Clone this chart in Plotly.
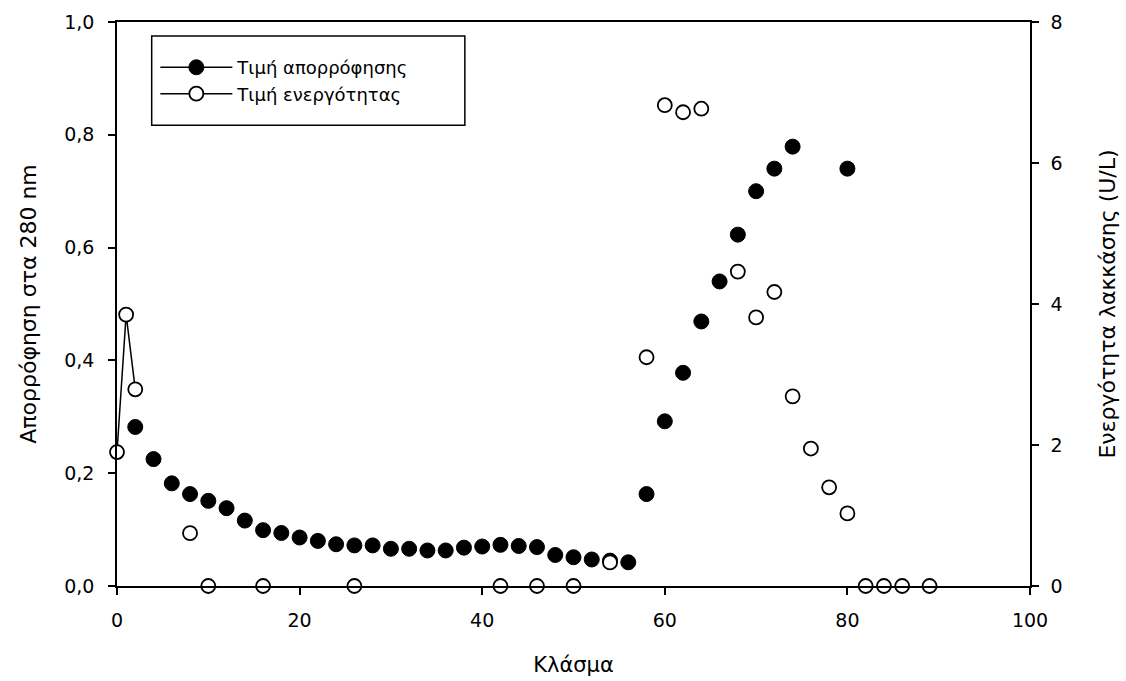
import plotly.graph_objects as go

# Absorbance at 280 nm per fraction (left axis)
abs_fraction = [2, 4, 6, 8, 10, 12, 14, 16, 18, 20, 22, 24, 26, 28, 30, 32, 34, 36,
                38, 40, 42, 44, 46, 48, 50, 52, 54, 56, 58, 60, 62, 64, 66, 68, 70,
                72, 74, 80]
abs_value = [0.282, 0.225, 0.182, 0.163, 0.151, 0.138, 0.116, 0.099, 0.094, 0.086,
             0.080, 0.074, 0.072, 0.072, 0.066, 0.066, 0.063, 0.063, 0.068, 0.070,
             0.073, 0.071, 0.069, 0.055, 0.051, 0.047, 0.045, 0.042, 0.163, 0.292,
             0.378, 0.469, 0.540, 0.623, 0.700, 0.740, 0.779, 0.740]

# Laccase activity (U/L) per fraction (right axis)
act_fraction = [0, 1, 2, 8, 10, 16, 26, 42, 46, 50, 54, 58, 60, 62, 64, 68, 70, 72,
                74, 76, 78, 80, 82, 84, 86, 89]
act_value = [1.90, 3.85, 2.79, 0.75, 0.0, 0.0, 0.0, 0.0, 0.0, 0.0, 0.335, 3.245,
             6.82, 6.72, 6.77, 4.46, 3.81, 4.17, 2.69, 1.95, 1.40, 1.03, 0.0, 0.0,
             0.0, 0.0]

# Axis ticks (comma decimal separator)
left_tickvals = [0.0, 0.2, 0.4, 0.6, 0.8, 1.0]
left_ticktext = ["0,0", "0,2", "0,4", "0,6", "0,8", "1,0"]
right_tickvals = [0, 2, 4, 6, 8]
x_tickvals = [0, 20, 40, 60, 80, 100]


def with_gaps(xs, ys):
    """Insert None between fractions that are not adjacent, so the line
    only joins consecutive fractions."""
    gx, gy = [], []
    for i, (x, y) in enumerate(zip(xs, ys)):
        if i > 0 and x - xs[i - 1] > 1:
            gx.append(None)
            gy.append(None)
        gx.append(x)
        gy.append(y)
    return gx, gy


ax_x, ax_y = with_gaps(abs_fraction, abs_value)
ac_x, ac_y = with_gaps(act_fraction, act_value)

tick_font = dict(family="DejaVu Sans", size=19, color="black")

fig = go.Figure()
fig.add_trace(go.Scatter(
    x=ax_x, y=ax_y, mode="lines+markers", name="Τιμή απορρόφησης",
    line=dict(color="black", width=1.5),
    marker=dict(symbol="circle", size=15, color="black",
                line=dict(color="black", width=1)),
    connectgaps=False, cliponaxis=False, yaxis="y",
))
fig.add_trace(go.Scatter(
    x=ac_x, y=ac_y, mode="lines+markers", name="Τιμή ενεργότητας",
    line=dict(color="black", width=1.5),
    marker=dict(symbol="circle", size=14, color="white",
                line=dict(color="black", width=1.8)),
    connectgaps=False, cliponaxis=False, yaxis="y2",
))

# Frame around the legend, with extra padding above and below the entries
fig.add_shape(
    type="rect", xref="paper", yref="paper",
    x0=0.038, x1=0.381, y0=0.817, y1=0.975,
    line=dict(color="black", width=1.5), fillcolor="white", layer="below",
)

fig.update_layout(
    width=1126, height=681,
    margin=dict(l=117, r=96, t=22, b=95),
    paper_bgcolor="white", plot_bgcolor="white",
    showlegend=True,
    legend=dict(
        x=0.042, y=0.952, xanchor="left", yanchor="top",
        borderwidth=0, bgcolor="rgba(0,0,0,0)",
        font=dict(family="DejaVu Sans", size=18, color="black"),
        itemwidth=72,
    ),
    xaxis=dict(
        range=[0, 100], tickvals=x_tickvals, ticks="outside", ticklen=7,
        tickwidth=1.5, tickcolor="black", showline=True, linecolor="black",
        linewidth=1.5, mirror=True, showgrid=False, zeroline=False,
        tickfont=tick_font, automargin=False, ticklabelstandoff=9,
        title=dict(text="Κλάσμα",
                   font=dict(family="DejaVu Sans", size=21, color="black"),
                   standoff=28),
    ),
    yaxis=dict(
        range=[0, 1], tickvals=left_tickvals, ticktext=left_ticktext,
        ticks="outside", ticklen=7, tickwidth=1.5, tickcolor="black",
        showline=True, linecolor="black", linewidth=1.5, showgrid=False,
        zeroline=False, tickfont=tick_font, automargin=False,
        ticklabelstandoff=10,
        title=dict(text="Απορρόφηση στα 280 nm",
                   font=dict(family="DejaVu Sans", size=22, color="black"),
                   standoff=22),
    ),
    yaxis2=dict(
        range=[0, 8], tickvals=right_tickvals, overlaying="y", side="right",
        ticks="outside", ticklen=7, tickwidth=1.5, tickcolor="black",
        showline=True, linecolor="black", linewidth=1.5, showgrid=False,
        zeroline=False, tickfont=tick_font, automargin=False,
        ticklabelstandoff=8,
        title=dict(text="Ενεργότητα λακκάσης (U/L)",
                   font=dict(family="DejaVu Sans", size=22, color="black"),
                   standoff=38),
    ),
)

fig.write_html("out.html")
